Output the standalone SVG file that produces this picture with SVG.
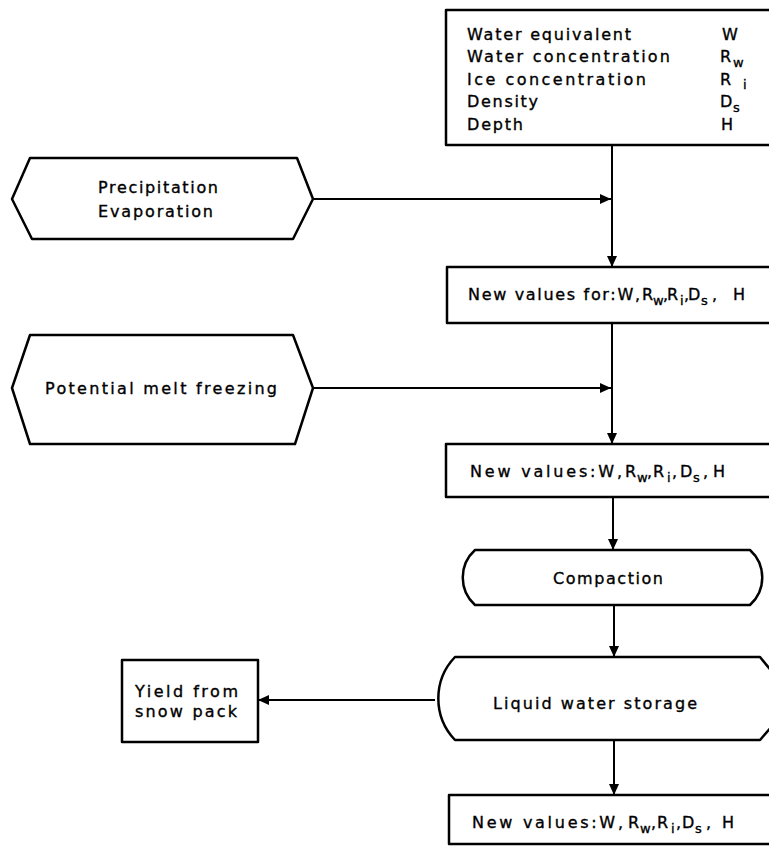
<svg xmlns="http://www.w3.org/2000/svg" width="769" height="846" viewBox="0 0 769 846">
<style>
.s{fill:#fff;stroke:#000;stroke-width:2.5;stroke-linejoin:round}
.c{fill:none;stroke:#000;stroke-width:2}
text{font-family:"DejaVu Sans","Liberation Sans",sans-serif;font-size:16px;fill:#000;stroke:#000;stroke-width:0.35}
.sub{font-size:13px}
</style>
<defs>
<marker id="ah" markerUnits="userSpaceOnUse" markerWidth="12" markerHeight="10" refX="11" refY="5" orient="auto">
<path d="M0,0 L11,5 L0,10 Z" fill="#000"/>
</marker>
</defs>
<rect width="769" height="846" fill="#fff"/>

<g id="connectors">
<line class="c" x1="313" y1="199" x2="611" y2="199" marker-end="url(#ah)"/>
<line class="c" x1="612" y1="145" x2="612" y2="267" marker-end="url(#ah)"/>
<line class="c" x1="313" y1="388" x2="611" y2="388" marker-end="url(#ah)"/>
<line class="c" x1="612" y1="323" x2="612" y2="444" marker-end="url(#ah)"/>
<line class="c" x1="613" y1="497" x2="613" y2="550" marker-end="url(#ah)"/>
<line class="c" x1="614" y1="605" x2="614" y2="657" marker-end="url(#ah)"/>
<line class="c" x1="435" y1="700" x2="258" y2="700" marker-end="url(#ah)"/>
<line class="c" x1="614" y1="740" x2="614" y2="795" marker-end="url(#ah)"/>
</g>

<g id="state">
<rect class="s" x="446" y="10" width="340" height="135"/>
<text x="467" y="40" textLength="164" lengthAdjust="spacing">Water equivalent</text>
<text x="467" y="62" textLength="203" lengthAdjust="spacing">Water concentration</text>
<text x="467" y="85" textLength="179" lengthAdjust="spacing">Ice concentration</text>
<text x="467" y="107" textLength="71" lengthAdjust="spacing">Density</text>
<text x="467" y="130" textLength="56" lengthAdjust="spacing">Depth</text>
<text x="722" y="40">W</text>
<text x="720" y="62">R</text><text class="sub" x="733" y="67">w</text>
<text x="720" y="85">R</text><text class="sub" x="743" y="89">i</text>
<text x="720" y="107">D</text><text class="sub" x="733" y="112">s</text>
<text x="721" y="130">H</text>
</g>

<g id="precip">
<polygon class="s" points="30,158 297,158 313,199 293,239 32,239 12,199"/>
<text x="98" y="193" textLength="120" lengthAdjust="spacing">Precipitation</text>
<text x="98" y="217" textLength="115" lengthAdjust="spacing">Evaporation</text>
</g>

<g id="values1">
<rect class="s" x="447" y="267" width="340" height="56"/>
<text x="468" y="300" textLength="172" lengthAdjust="spacing">New values for:W,</text>
<text x="642" y="300">R</text><text class="sub" x="653" y="305">w</text><text x="663" y="300">,</text>
<text x="667" y="300">R</text><text class="sub" x="680" y="305">i</text><text x="684" y="300">,</text>
<text x="688" y="300">D</text><text class="sub" x="701" y="305">s</text><text x="712" y="300">,</text>
<text x="733" y="300">H</text>
</g>

<g id="melt">
<polygon class="s" points="30,335 293,335 313,388 295,444 30,444 12,388"/>
<text x="45" y="394" textLength="232" lengthAdjust="spacing">Potential melt freezing</text>
</g>

<g id="values2">
<rect class="s" x="446" y="444" width="340" height="53"/>
<text x="470" y="477" textLength="152" lengthAdjust="spacing">New values:W,</text>
<text x="625" y="477">R</text><text class="sub" x="637" y="482">w</text><text x="647" y="477">,</text>
<text x="653" y="477">R</text><text class="sub" x="667" y="482">i</text><text x="672" y="477">,</text>
<text x="680" y="477">D</text><text class="sub" x="693" y="482">s</text><text x="703" y="477">,</text>
<text x="713" y="477">H</text>
</g>

<g id="compaction">
<path class="s" d="M475,550 L750,550 A37,37 0 0 1 750,605 L475,605 A37,37 0 0 1 475,550 Z"/>
<text x="553" y="584" textLength="110" lengthAdjust="spacing">Compaction</text>
</g>

<g id="storage">
<path class="s" d="M455,657 L760,657 L795,700 L760,740 L455,740 A60,60 0 0 1 455,657 Z"/>
<text x="493" y="709" textLength="204" lengthAdjust="spacing">Liquid water storage</text>
</g>

<g id="yield">
<rect class="s" x="122" y="660" width="136" height="82"/>
<text x="135" y="697" textLength="103" lengthAdjust="spacing">Yield from</text>
<text x="135" y="717" textLength="102" lengthAdjust="spacing">snow pack</text>
</g>

<g id="values3">
<rect class="s" x="449" y="795" width="340" height="49"/>
<text x="472" y="828" textLength="151" lengthAdjust="spacing">New values:W,</text>
<text x="628" y="828">R</text><text class="sub" x="640" y="833">w</text><text x="651" y="828">,</text>
<text x="657" y="828">R</text><text class="sub" x="671" y="833">i</text><text x="676" y="828">,</text>
<text x="682" y="828">D</text><text class="sub" x="695" y="833">s</text><text x="706" y="828">,</text>
<text x="722" y="828">H</text>
</g>
</svg>
